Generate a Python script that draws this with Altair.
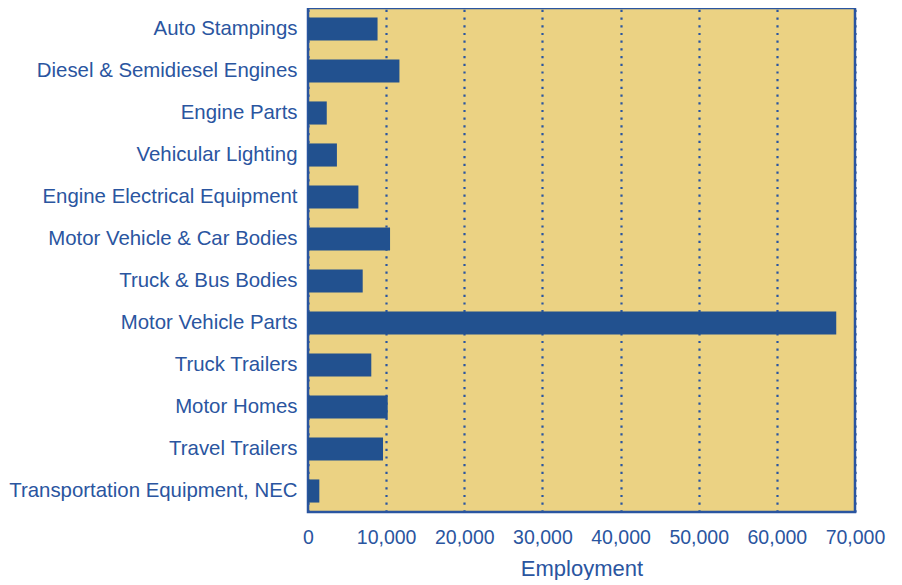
import altair as alt
import pandas as pd

categories = [
    "Auto Stampings",
    "Diesel & Semidiesel Engines",
    "Engine Parts",
    "Vehicular Lighting",
    "Engine Electrical Equipment",
    "Motor Vehicle & Car Bodies",
    "Truck & Bus Bodies",
    "Motor Vehicle Parts",
    "Truck Trailers",
    "Motor Homes",
    "Travel Trailers",
    "Transportation Equipment, NEC",
]
employment = [8900, 11700, 2400, 3700, 6450, 10500, 7000, 67600, 8100, 10200, 9600, 1450]
x_ticks = [0, 10000, 20000, 30000, 40000, 50000, 60000, 70000]

df = pd.DataFrame({"category": categories, "employment": employment})

BLUE = "#22518F"
TEXT = "#2A55A0"
BG = "#EBD283"

chart = (
    alt.Chart(df)
    .mark_bar(color=BLUE)
    .encode(
        x=alt.X(
            "employment:Q",
            title="Employment",
            scale=alt.Scale(domain=[0, 70000], nice=False),
            axis=alt.Axis(
                values=x_ticks,
                labelExpr="format(datum.value, ',d')",
                labelOverlap=False,
                labelFlush=False,
                labelBound=False,
                grid=True,
                gridColor=TEXT,
                gridWidth=2.2,
                gridDash=[2.2, 5.5],
                ticks=False,
                domain=False,
                labelPadding=16,
                labelFontSize=19.5,
                labelColor=TEXT,
                titleFontSize=22,
                titleColor=TEXT,
                titleFontWeight="normal",
                titlePadding=12,
                labelFont="Liberation Sans",
                titleFont="Liberation Sans",
            ),
        ),
        y=alt.Y(
            "category:N",
            sort=categories,
            title=None,
            scale=alt.Scale(paddingInner=0.45, paddingOuter=0.225),
            axis=alt.Axis(
                ticks=False,
                domain=False,
                labelPadding=11,
                labelFontSize=20.4,
                labelColor=TEXT,
                labelFont="Liberation Sans",
                labelLimit=400,
            ),
        ),
    )
    .properties(
        width=547,
        height=504,
        background="white",
        padding={"top": 0, "left": 0, "right": 5, "bottom": 0},
    )
    .configure_view(fill=BG, stroke=TEXT, strokeWidth=2.5)
)

chart.save("out.html", embed_options={"renderer": "svg", "actions": False})
